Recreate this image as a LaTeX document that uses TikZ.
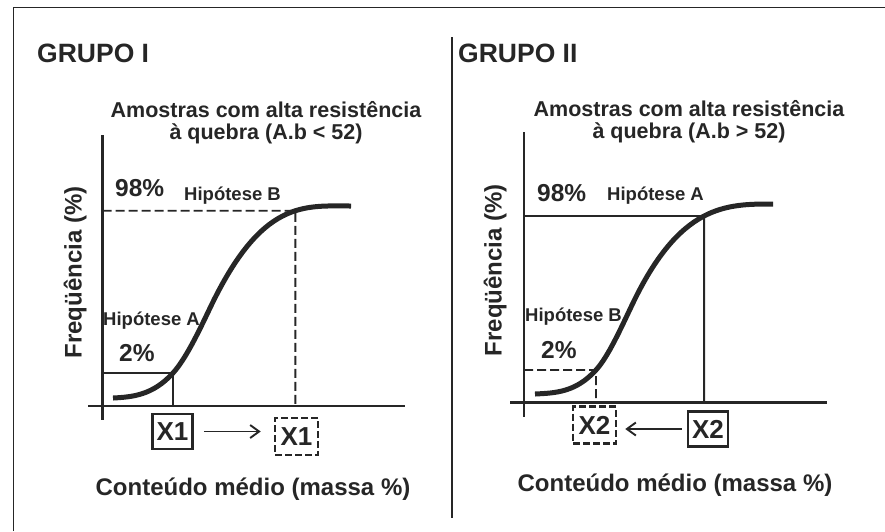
\documentclass[tikz,border=0pt]{standalone}
\usepackage{fontspec}
\setmainfont{Liberation Sans}
\usepackage{tikz}
\usetikzlibrary{arrows.meta,intersections}
\definecolor{ink}{HTML}{262626}
\tikzset{
  grp/.style={font=\bfseries\fontsize{26.5}{28}\selectfont, text=ink, inner sep=0},
  ttl/.style={font=\bfseries\fontsize{21.5}{22.5}\selectfont, text=ink, inner sep=0, align=center},
  axl/.style={font=\bfseries\fontsize{24}{26}\selectfont, text=ink, inner sep=0},
  pct/.style={font=\bfseries\fontsize{24.5}{26}\selectfont, text=ink, inner sep=0},
  hyp/.style={font=\bfseries\fontsize{18.5}{20}\selectfont, text=ink, inner sep=0},
  xbox/.style={draw=ink, line width=2.5pt, font=\bfseries\fontsize{26}{28}\selectfont, text=ink,
    inner sep=0, minimum width=40pt, minimum height=35pt},
  dbox/.style={xbox, dash pattern=on 7pt off 3pt, minimum width=43pt, minimum height=37pt},
  ax/.style={draw=ink, line width=2.4pt},
  crv/.style={draw=ink, line width=5pt},
  lvl/.style={draw=ink, line width=1.9pt},
  dlvl/.style={lvl, dash pattern=on 9pt off 4pt},
  arr/.style={draw=ink, line width=1.9pt, -{Straight Barb[length=9pt,width=13pt]}},
}

\begin{document}
\begin{tikzpicture}[x=1pt, y=-1pt]
\useasboundingbox (0,0) rectangle (885,531);
%%%%% Frame %%%%%
\draw[ink, line width=1.8pt] (13.5,531) -- (13.5,7.5) -- (885,7.5);
\draw[ink, line width=2.4pt] (452,37) -- (452,518);

%%%%% Grupo I %%%%%
\node[grp, anchor=base west] (gI) at (37,62) {GRUPO I};
\node[ttl, anchor=base] (tI) at (266,139.5) {Amostras com alta resistência\\à quebra (A.b < 52)};
\coordinate (oI) at (102.5,406);
\draw[ax] (102.5,135) -- (102.5,420);
\draw[ax] (88,406) -- (405,406);
\draw[crv, name path=cvI] (113,398) .. controls (133,397) and (153,395) .. (173,373)
  .. controls (185.3,359.4) and (197.7,333.9) .. (210,308)
  .. controls (262,199) and (304,206) .. (351,206);
\path[name path=hiI] (102.5,210.7) -- (400,210.7);
\path[name path=loI] (102.5,373) -- (400,373);
\path[name intersections={of=cvI and hiI, by=pBI}];
\path[name intersections={of=cvI and loI, by=pAI}];
\draw[dlvl] (102.5,210.7) -- (pBI) -- (pBI |- oI);
\draw[lvl] (102.5,373) -- (pAI) -- (pAI |- oI);
\node[pct, anchor=base west] (p98I) at (115,196.5) {98\%};
\node[hyp, anchor=base west] (hBI) at (184,200.7) {Hipótese B};
\node[hyp, anchor=base west] (hAI) at (103,325) {Hipótese A};
\node[pct, anchor=base west] (p2I) at (119,361) {2\%};
\node[xbox] (x1a) at (172.5,431.5) {X1};
\node[dbox] (x1b) at (296.5,436.5) {X1};
\draw[arr, shorten <=10pt, shorten >=13pt] (x1a.east) -- (x1a.east -| x1b.west);
\node[axl, anchor=base] (xlI) at (253,495) {Conteúdo médio (massa \%)};
\node[axl, rotate=90, anchor=base] (ylI) at (81.7,272.5) {Freqüência (\%)};

%%%%% Grupo II %%%%%
\node[grp, anchor=base west] (gII) at (458,62) {GRUPO II};
\node[ttl, anchor=base] (tII) at (689,138.5) {Amostras com alta resistência\\à quebra (A.b > 52)};
\coordinate (oII) at (524,402.5);
\draw[ax] (524,132) -- (524,417);
\draw[ax] (510,402.5) -- (827,402.5);
\draw[crv, name path=cvII] (535,394) .. controls (555.3,393) and (575.7,392.4) .. (596,370)
  .. controls (608,356.8) and (620,330.2) .. (632,305)
  .. controls (680,204) and (726,204) .. (773,204);
\path[name path=hiII] (524,216) -- (820,216);
\path[name path=loII] (524,370) -- (820,370);
\path[name intersections={of=cvII and hiII, by=pAII}];
\path[name intersections={of=cvII and loII, by=pBII}];
\draw[lvl] (524,216) -- (pAII) -- (pAII |- oII);
\draw[dlvl] (524,370) -- (pBII) -- (pBII |- oII);
\node[pct, anchor=base west] (p98II) at (537,201.5) {98\%};
\node[hyp, anchor=base west] (hAII) at (607,200) {Hipótese A};
\node[hyp, anchor=base west] (hBII) at (525,321.7) {Hipótese B};
\node[pct, anchor=base west] (p2II) at (541,358.5) {2\%};
\node[dbox] (x2a) at (594.5,425) {X2};
\node[xbox] (x2b) at (708,429) {X2};
\draw[arr, shorten <=5pt, shorten >=8pt] (x2b.west) -- (x2b.west -| x2a.east);
\node[axl, anchor=base] (xlII) at (675,491.5) {Conteúdo médio (massa \%)};
\node[axl, rotate=90, anchor=base] (ylII) at (501.7,270) {Freqüência (\%)};
\end{tikzpicture}
\end{document}
